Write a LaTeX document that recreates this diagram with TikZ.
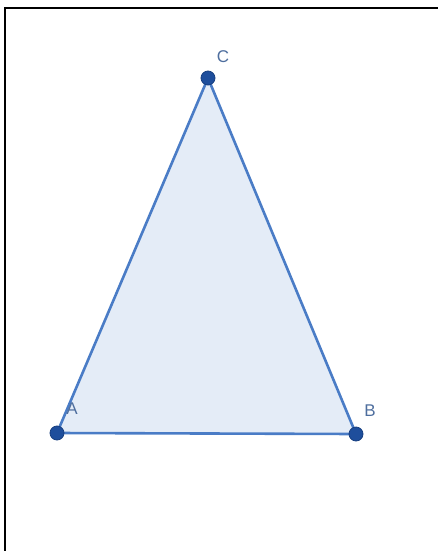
\documentclass[tikz,border=0pt]{standalone}
\usepackage{fontspec}
\setmainfont{Liberation Sans}
\definecolor{edgeblue}{HTML}{4A7CC6}
\definecolor{fillblue}{HTML}{E4ECF7}
\definecolor{dotblue}{HTML}{1E4E9C}
\definecolor{dotrim}{HTML}{173F80}
\definecolor{labelblue}{HTML}{4E6E9E}
\begin{document}
\begin{tikzpicture}[x=1pt,y=-1pt,
  pt/.style={circle,fill=dotblue,draw=dotrim,line width=0.8pt,minimum size=14pt,inner sep=0pt},
  lab/.style={text=labelblue,font=\fontsize{17}{17}\selectfont,inner sep=0pt},
  frame/.style={draw=black,line width=2.2pt}]
\useasboundingbox (0,0) rectangle (438,551);
\coordinate (A) at (57,433);
\coordinate (B) at (356,434);
\coordinate (C) at (208,78);
\coordinate (tl) at (5,8);
\coordinate (tr) at (438,8);
\coordinate (bl) at (5,551);
\draw[frame] (tr) -- (tl) -- (bl);
\fill[fillblue] (A) -- (B) -- (C) -- cycle;
\draw[edgeblue,line width=2.6pt,line join=round] (A) -- (B) -- (C) -- cycle;
\node[pt] (pA) at (A) {};
\node[pt] (pB) at (B) {};
\node[pt] (pC) at (C) {};
\node[lab] (lA) at (72,409) {A};
\node[lab] (lB) at (370,411) {B};
\node[lab] (lC) at (223,57) {C};
\end{tikzpicture}
\end{document}
